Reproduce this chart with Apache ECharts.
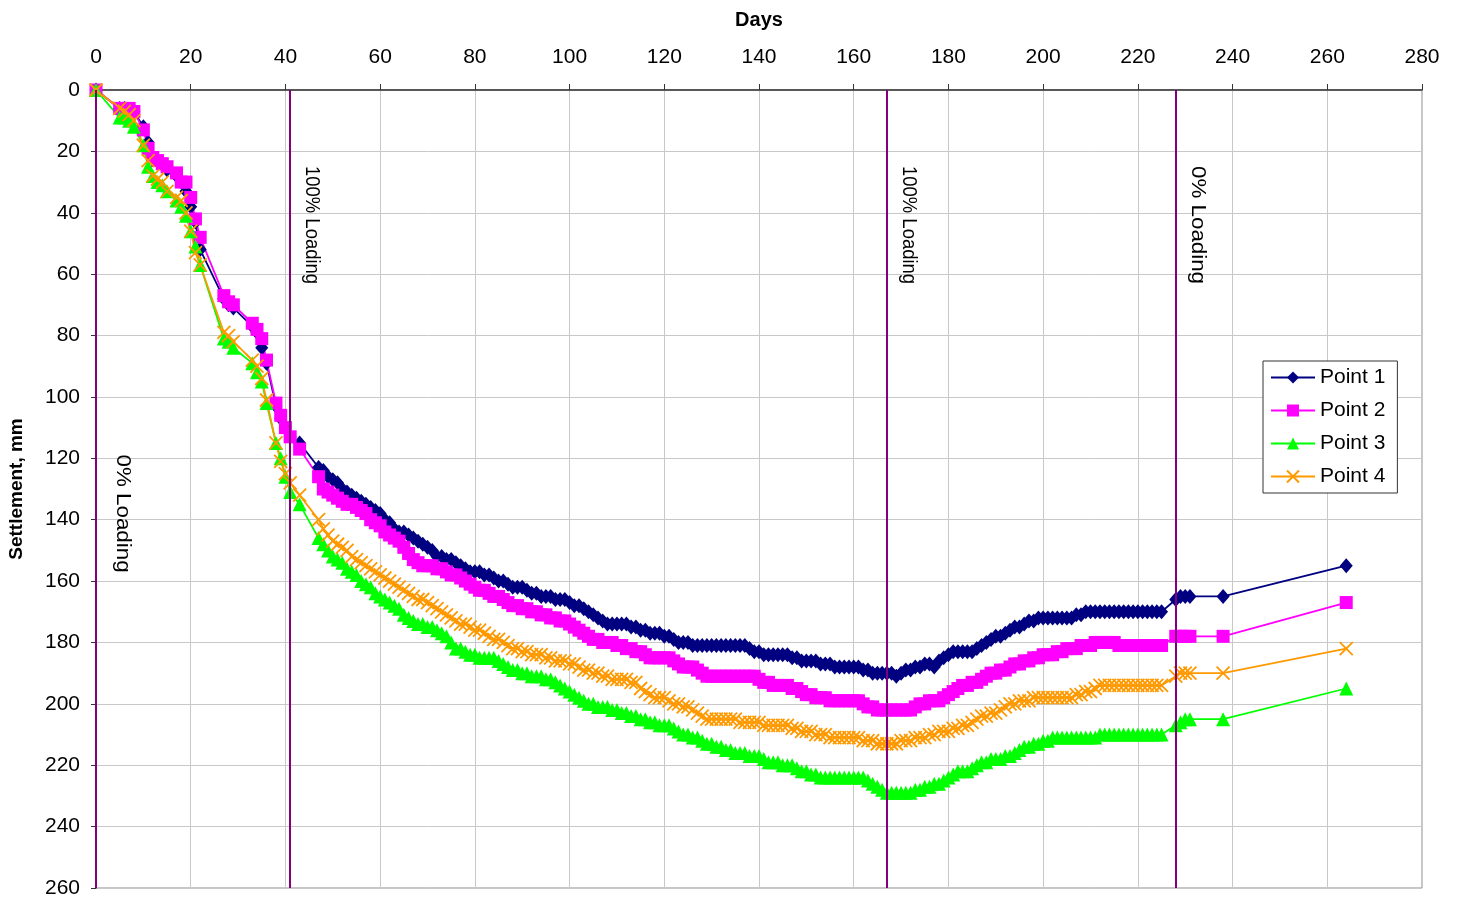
<!DOCTYPE html>
<html>
<head>
<meta charset="utf-8">
<script src="https://cdn.jsdelivr.net/npm/echarts@6/dist/echarts.min.js"></script>
<style>
  html, body { margin: 0; padding: 0; background: #fff; }
  #main { width: 1461px; height: 900px; }
</style>
</head>
<body>
<div id="main"></div>
<script>
// measurement days: irregular early readings, daily from day 47, then the last few
const earlyDays = [0, 5, 6, 7, 8, 10, 11, 12, 13, 14, 15, 17, 18, 19, 20, 21, 22, 27, 28, 29, 33, 34, 35, 36, 38, 39, 40, 41, 43];
const dailyDays = [
  47, 48, 49, 50, 51, 52, 53, 54, 55, 56, 57, 58, 59, 60, 61, 62, 63, 64, 65, 66,
  67, 68, 69, 70, 71, 72, 73, 74, 75, 76, 77, 78, 79, 80, 81, 82, 83, 84, 85, 86,
  87, 88, 89, 90, 91, 92, 93, 94, 95, 96, 97, 98, 99, 100, 101, 102, 103, 104, 105, 106,
  107, 108, 109, 110, 111, 112, 113, 114, 115, 116, 117, 118, 119, 120, 121, 122, 123, 124, 125, 126,
  127, 128, 129, 130, 131, 132, 133, 134, 135, 136, 137, 138, 139, 140, 141, 142, 143, 144, 145, 146,
  147, 148, 149, 150, 151, 152, 153, 154, 155, 156, 157, 158, 159, 160, 161, 162, 163, 164, 165, 166,
  167, 168, 169, 170, 171, 172, 173, 174, 175, 176, 177, 178, 179, 180, 181, 182, 183, 184, 185, 186,
  187, 188, 189, 190, 191, 192, 193, 194, 195, 196, 197, 198, 199, 200, 201, 202, 203, 204, 205, 206,
  207, 208, 209, 210, 211, 212, 213, 214, 215, 216, 217, 218, 219, 220, 221, 222, 223, 224, 225
];
const lateDays = [228, 229, 230, 231, 238, 264];
const days = earlyDays.concat(dailyDays, lateDays);

// settlement, mm
const point1 = [
  0, 6, 6, 7, 7, 12, 17, 22, 23, 24, 26, 28, 30, 33, 38, 43, 52, 68, 70, 71, 77, 79, 84, 89, 103, 107, 110, 113, 115,
  123, 124, 126, 127, 128, 130, 131, 132, 133, 134,
  135, 136, 137, 138, 140, 141, 143, 144, 144, 145,
  146, 147, 148, 149, 150, 152, 152, 153, 153, 154,
  155, 156, 157, 157, 157, 158, 158, 159, 160, 160,
  161, 162, 162, 162, 163, 164, 164, 165, 165, 165,
  166, 166, 166, 167, 168, 168, 169, 170, 171, 172,
  173, 174, 174, 174, 174, 174, 175, 175, 176, 176,
  177, 177, 177, 178, 178, 179, 180, 180, 180, 181,
  181, 181, 181, 181, 181, 181, 181, 181, 181, 181,
  181, 182, 183, 183, 184, 184, 184, 184, 184, 184,
  185, 185, 186, 186, 186, 186, 187, 187, 187, 188,
  188, 188, 188, 188, 188, 189, 189, 190, 190, 190,
  190, 190, 191, 190, 189, 189, 188, 188, 187, 187,
  188, 186, 185, 184, 183, 183, 183, 183, 183, 182,
  181, 180, 179, 178, 178, 177, 176, 175, 175, 174,
  173, 173, 172, 172, 172, 172, 172, 172, 172, 172,
  171, 171, 170, 170, 170, 170, 170, 170, 170, 170,
  170, 170, 170, 170, 170, 170, 170, 170, 170,
  166, 165, 165, 165, 165, 155
];
const point2 = [
  0, 6, 6, 6, 7, 13, 19, 22, 23, 24, 25, 27, 30, 30, 35, 42, 48, 67, 69, 70, 76, 78, 81, 88, 102, 106, 110, 113, 117,
  126, 130, 131, 132, 133, 134, 135, 135, 136, 137,
  138, 140, 141, 142, 144, 145, 146, 147, 149, 151,
  153, 154, 155, 155, 155, 156, 156, 157, 158, 158,
  159, 160, 161, 162, 163, 163, 164, 165, 165, 166,
  167, 168, 168, 169, 169, 170, 170, 171, 171, 172,
  172, 173, 173, 174, 175, 176, 177, 178, 179, 179,
  180, 180, 180, 181, 181, 182, 182, 183, 183, 184,
  185, 185, 185, 185, 185, 186, 187, 188, 188, 188,
  189, 190, 191, 191, 191, 191, 191, 191, 191, 191,
  191, 191, 191, 192, 193, 193, 194, 194, 194, 194,
  195, 195, 196, 197, 197, 198, 198, 198, 199, 199,
  199, 199, 199, 199, 199, 200, 201, 201, 202, 202,
  202, 202, 202, 202, 202, 202, 201, 200, 200, 199,
  199, 199, 198, 197, 196, 195, 194, 194, 193, 193,
  192, 191, 190, 190, 189, 189, 188, 187, 187, 186,
  186, 185, 185, 184, 184, 184, 183, 183, 182, 182,
  182, 181, 181, 181, 180, 180, 180, 180, 180, 181,
  181, 181, 181, 181, 181, 181, 181, 181, 181,
  178, 178, 178, 178, 178, 167
];
const point3 = [
  0, 9, 9, 10, 12, 18, 25, 28, 30, 31, 33, 36, 38, 41, 46, 51, 57, 81, 82, 84, 89, 92, 95, 102, 115, 120, 126, 131, 135,
  146, 148, 150, 152, 153, 154, 156, 157, 158, 160,
  161, 162, 164, 165, 166, 167, 168, 169, 171, 172,
  173, 174, 174, 175, 175, 176, 177, 178, 180, 182,
  182, 183, 184, 184, 185, 185, 185, 185, 186, 187,
  188, 189, 189, 190, 190, 191, 191, 191, 192, 192,
  193, 194, 195, 196, 197, 198, 199, 200, 200, 201,
  201, 201, 202, 202, 203, 203, 204, 204, 205, 205,
  206, 206, 207, 207, 207, 208, 209, 210, 210, 211,
  211, 212, 213, 213, 214, 214, 215, 215, 216, 216,
  216, 217, 217, 217, 218, 219, 219, 219, 220, 220,
  220, 221, 222, 222, 223, 223, 224, 224, 224, 224,
  224, 224, 224, 224, 224, 224, 225, 226, 227, 228,
  229, 229, 229, 229, 229, 229, 228, 228, 227, 227,
  226, 226, 225, 224, 223, 222, 222, 222, 221, 220,
  219, 219, 218, 218, 218, 217, 217, 216, 215, 214,
  214, 213, 213, 212, 212, 211, 211, 211, 211, 211,
  211, 211, 211, 211, 211, 210, 210, 210, 210, 210,
  210, 210, 210, 210, 210, 210, 210, 210, 210,
  207, 206, 205, 205, 205, 195
];
const point4 = [
  0, 6, 7, 8, 10, 18, 23, 28, 29, 30, 33, 35, 36, 40, 46, 53, 57, 79, 80, 82, 88, 90, 94, 101, 115, 121, 125, 128, 132,
  140, 143, 145, 147, 148, 149, 150, 152, 153, 154,
  155, 156, 157, 158, 159, 160, 161, 162, 163, 164,
  165, 166, 166, 167, 168, 169, 170, 171, 172, 173,
  174, 174, 175, 176, 176, 177, 178, 179, 179, 180,
  181, 182, 182, 183, 183, 184, 184, 184, 185, 185,
  186, 186, 186, 187, 187, 188, 189, 189, 190, 190,
  191, 191, 192, 192, 192, 192, 193, 193, 195, 196,
  197, 198, 198, 198, 199, 200, 200, 201, 201, 202,
  203, 204, 205, 205, 205, 205, 205, 205, 205, 206,
  206, 206, 206, 206, 207, 207, 207, 207, 207, 207,
  208, 208, 209, 209, 209, 210, 210, 210, 211, 211,
  211, 211, 211, 211, 211, 212, 212, 212, 213, 213,
  213, 213, 213, 212, 212, 212, 211, 211, 211, 210,
  210, 209, 209, 209, 208, 208, 207, 207, 206, 205,
  204, 204, 203, 203, 202, 201, 200, 200, 199, 199,
  199, 198, 198, 198, 198, 198, 198, 198, 198, 198,
  197, 197, 196, 196, 195, 194, 194, 194, 194, 194,
  194, 194, 194, 194, 194, 194, 194, 194, 194,
  191, 190, 190, 190, 190, 182
];

const loadDays = [0, 41, 167, 228];
const loadTexts = ['0% Loading', '100% Loading', '100% Loading', '0% Loading'];
const xTicks = [0, 280, 20];
const yTicks = [0, 260, 20];

const chartDom = document.getElementById('main');
const myChart = echarts.init(chartDom);
const font = 'Liberation Sans, Arial, sans-serif';

const pairs = vals => days.map((d, i) => [d, vals[i]]);

const seriesDefs = [
  { name: 'Point 1', values: point1, color: '#000080', symbol: 'diamond', size: [13, 15] },
  { name: 'Point 2', values: point2, color: '#FF00FF', symbol: 'rect', size: 13 },
  { name: 'Point 3', values: point3, color: '#00FF00', symbol: 'triangle', size: 14 },
  { name: 'Point 4', values: point4, color: '#FF9900', symbol: 'path://M0,0 L10,10 M10,0 L0,10', size: 13 }
];

const series = seriesDefs.map(s => ({
  name: s.name,
  type: 'line',
  data: pairs(s.values),
  symbol: s.symbol,
  symbolSize: s.size,
  showAllSymbol: true,
  lineStyle: { color: s.color, width: 1.8 },
  itemStyle: s.symbol.startsWith('path')
    ? { color: s.color, borderColor: s.color, borderWidth: 1.8 }
    : { color: s.color, borderWidth: 0 },
  emphasis: { disabled: true },
  z: 3
}));

series.push({
  name: 'loading',
  type: 'line',
  data: [],
  silent: true,
  z: 6,
  markLine: {
    silent: true,
    symbol: 'none',
    animation: false,
    label: { show: false },
    lineStyle: { color: '#800080', width: 2, type: 'solid' },
    data: loadDays.map(d => ({ xAxis: d }))
  }
});

const option = {
  animation: false,
  backgroundColor: '#fff',
  textStyle: { fontFamily: font },
  grid: {
    left: 96, right: 39, top: 90, bottom: 12,
    outerBoundsMode: 'none',
    containLabel: false,
    show: true, borderColor: '#8c8c8c', borderWidth: 1
  },
  legend: {
    data: seriesDefs.map(s => s.name),
    orient: 'vertical',
    left: 1263, top: 361,
    itemWidth: 44, itemHeight: 15, itemGap: 12,
    padding: [6, 12, 6, 7],
    borderColor: '#333', borderWidth: 1, backgroundColor: '#fff',
    textStyle: { fontSize: 21, color: '#000', fontFamily: font }
  },
  xAxis: {
    type: 'value',
    position: 'top',
    min: xTicks[0], max: xTicks[1], interval: xTicks[2],
    name: 'Days',
    nameLocation: 'middle',
    nameGap: 60,
    nameTextStyle: { fontSize: 20, fontWeight: 'bold', color: '#000', fontFamily: font },
    axisLine: { show: true, lineStyle: { color: '#333', width: 1.5 } },
    axisTick: { show: true, length: 6, lineStyle: { color: '#333' } },
    axisLabel: { fontSize: 21, color: '#000', margin: 22, fontFamily: font },
    splitLine: { show: true, lineStyle: { color: '#c8c8c8', width: 1 } }
  },
  yAxis: {
    type: 'value',
    inverse: true,
    min: yTicks[0], max: yTicks[1], interval: yTicks[2],
    name: 'Settlement, mm',
    nameLocation: 'middle',
    nameGap: 70,
    nameRotate: 90,
    nameTextStyle: { fontSize: 19, fontWeight: 'bold', color: '#000', fontFamily: font },
    axisLine: { show: true, lineStyle: { color: '#333' } },
    axisTick: { show: true, length: 5, lineStyle: { color: '#333' } },
    axisLabel: { fontSize: 21, color: '#000', margin: 16, fontFamily: font },
    splitLine: { show: true, lineStyle: { color: '#c8c8c8', width: 1 } }
  },
  series: series
};

myChart.setOption(option);

// rotated labels beside the loading lines, placed through the chart's own scales
const labelAt = [[5.6, 138], [45.6, 44], [171.6, 44], [232.6, 44]];
const labelLen = 118;
myChart.setOption({
  graphic: loadTexts.map((t, i) => {
    const p = myChart.convertToPixel({ gridIndex: 0 }, labelAt[i]);
    const w = echarts.format.getTextRect
      ? echarts.format.getTextRect(t, '21px ' + font).width
      : labelLen;
    return {
      type: 'text',
      x: p[0], y: p[1],
      rotation: -Math.PI / 2,
      scaleX: labelLen / w,
      z: 10,
      style: {
        text: t, fill: '#000', fontSize: 21, fontFamily: font,
        textAlign: 'center', textVerticalAlign: 'middle'
      }
    };
  })
});
</script>
</body>
</html>
